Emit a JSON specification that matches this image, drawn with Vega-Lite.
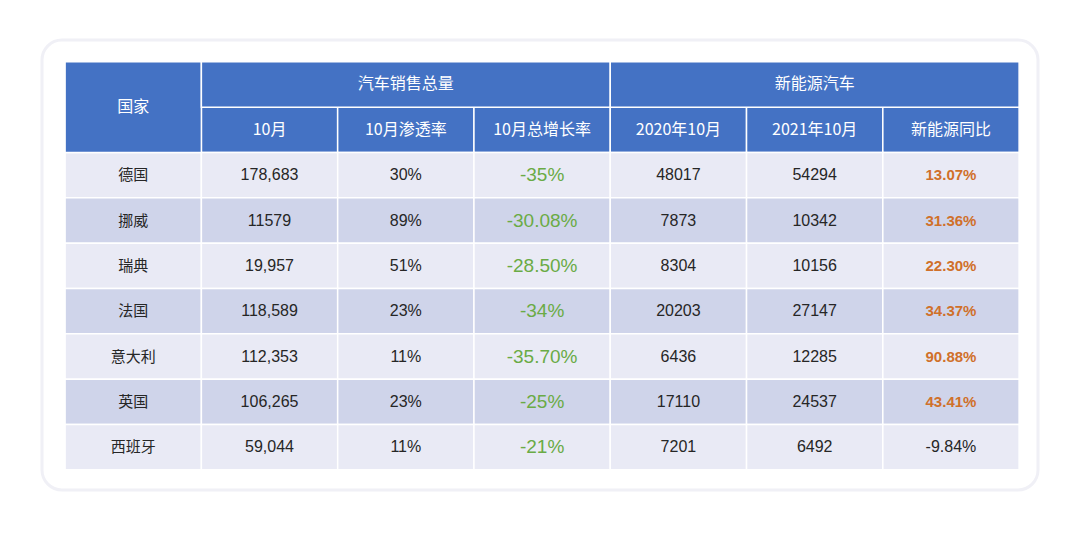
{
  "$schema": "https://vega.github.io/schema/vega-lite/v6.json",
  "width": 1080,
  "height": 535,
  "autosize": {"type": "fit", "contains": "padding"},
  "padding": {"left": 42, "top": 40, "right": 42, "bottom": 45},
  "background": "#ffffff",
  "config": {"view": {"fill": "#ffffff", "cornerRadius": 20, "stroke": "#f0f0f6", "strokeWidth": 3}},
  "datasets": {
    "cells": [
      {"row": "h2", "col": "c1", "text": "10月"},
      {"row": "h2", "col": "c2", "text": "10月渗透率"},
      {"row": "h2", "col": "c3", "text": "10月总增长率"},
      {"row": "h2", "col": "c4", "text": "2020年10月"},
      {"row": "h2", "col": "c5", "text": "2021年10月"},
      {"row": "h2", "col": "c6", "text": "新能源同比"},
      {"row": "德国", "col": "c0", "text": "德国"},
      {"row": "德国", "col": "c1", "text": "178,683"},
      {"row": "德国", "col": "c2", "text": "30%"},
      {"row": "德国", "col": "c3", "text": "-35%"},
      {"row": "德国", "col": "c4", "text": "48017"},
      {"row": "德国", "col": "c5", "text": "54294"},
      {"row": "德国", "col": "c6", "text": "13.07%"},
      {"row": "挪威", "col": "c0", "text": "挪威"},
      {"row": "挪威", "col": "c1", "text": "11579"},
      {"row": "挪威", "col": "c2", "text": "89%"},
      {"row": "挪威", "col": "c3", "text": "-30.08%"},
      {"row": "挪威", "col": "c4", "text": "7873"},
      {"row": "挪威", "col": "c5", "text": "10342"},
      {"row": "挪威", "col": "c6", "text": "31.36%"},
      {"row": "瑞典", "col": "c0", "text": "瑞典"},
      {"row": "瑞典", "col": "c1", "text": "19,957"},
      {"row": "瑞典", "col": "c2", "text": "51%"},
      {"row": "瑞典", "col": "c3", "text": "-28.50%"},
      {"row": "瑞典", "col": "c4", "text": "8304"},
      {"row": "瑞典", "col": "c5", "text": "10156"},
      {"row": "瑞典", "col": "c6", "text": "22.30%"},
      {"row": "法国", "col": "c0", "text": "法国"},
      {"row": "法国", "col": "c1", "text": "118,589"},
      {"row": "法国", "col": "c2", "text": "23%"},
      {"row": "法国", "col": "c3", "text": "-34%"},
      {"row": "法国", "col": "c4", "text": "20203"},
      {"row": "法国", "col": "c5", "text": "27147"},
      {"row": "法国", "col": "c6", "text": "34.37%"},
      {"row": "意大利", "col": "c0", "text": "意大利"},
      {"row": "意大利", "col": "c1", "text": "112,353"},
      {"row": "意大利", "col": "c2", "text": "11%"},
      {"row": "意大利", "col": "c3", "text": "-35.70%"},
      {"row": "意大利", "col": "c4", "text": "6436"},
      {"row": "意大利", "col": "c5", "text": "12285"},
      {"row": "意大利", "col": "c6", "text": "90.88%"},
      {"row": "英国", "col": "c0", "text": "英国"},
      {"row": "英国", "col": "c1", "text": "106,265"},
      {"row": "英国", "col": "c2", "text": "23%"},
      {"row": "英国", "col": "c3", "text": "-25%"},
      {"row": "英国", "col": "c4", "text": "17110"},
      {"row": "英国", "col": "c5", "text": "24537"},
      {"row": "英国", "col": "c6", "text": "43.41%"},
      {"row": "西班牙", "col": "c0", "text": "西班牙"},
      {"row": "西班牙", "col": "c1", "text": "59,044"},
      {"row": "西班牙", "col": "c2", "text": "11%"},
      {"row": "西班牙", "col": "c3", "text": "-21%"},
      {"row": "西班牙", "col": "c4", "text": "7201"},
      {"row": "西班牙", "col": "c5", "text": "6492"},
      {"row": "西班牙", "col": "c6", "text": "-9.84%"}
    ],
    "merged": [
      {"text": "国家", "c1": "c0", "c2": "c0", "cx": "c0", "r1": "h1", "r2": "h2"},
      {"text": "汽车销售总量", "c1": "c1", "c2": "c3", "cx": "c2", "r1": "h1", "r2": "h1"},
      {"text": "新能源汽车", "c1": "c4", "c2": "c6", "cx": "c5", "r1": "h1", "r2": "h1"}
    ]
  },
  "layer": [
    {
      "data": {"name": "cells"},
      "mark": {"type": "rect", "stroke": "#ffffff", "strokeWidth": 1.5},
      "encoding": {
        "x": {"field": "col", "type": "nominal", "axis": null, "scale": {"domain": ["c0", "c1", "c2", "c3", "c4", "c5", "c6"], "paddingInner": 0, "paddingOuter": 0.154, "align": 0.55}},
        "y": {"field": "row", "type": "nominal", "axis": null, "scale": {"domain": ["h1", "h2", "德国", "挪威", "瑞典", "法国", "意大利", "英国", "西班牙"], "paddingInner": 0, "paddingOuter": 0.463, "align": 0.52}},
        "fill": {"field": "row", "type": "nominal", "legend": null, "scale": {"domain": ["h2", "德国", "挪威", "瑞典", "法国", "意大利", "英国", "西班牙"], "range": ["#4472c4", "#e9eaf5", "#cfd4ea", "#e9eaf5", "#cfd4ea", "#e9eaf5", "#cfd4ea", "#e9eaf5"]}}
      }
    },
    {
      "data": {"name": "merged"},
      "mark": {"type": "rect", "stroke": "#ffffff", "strokeWidth": 1.5, "fill": "#4472c4"},
      "encoding": {
        "x": {"field": "c1", "type": "nominal", "bandPosition": 0, "axis": null, "scale": {"domain": ["c0", "c1", "c2", "c3", "c4", "c5", "c6"], "paddingInner": 0, "paddingOuter": 0.154, "align": 0.55}},
        "x2": {"field": "c2", "bandPosition": 1},
        "y": {"field": "r1", "type": "nominal", "bandPosition": 0, "axis": null, "scale": {"domain": ["h1", "h2", "德国", "挪威", "瑞典", "法国", "意大利", "英国", "西班牙"], "paddingInner": 0, "paddingOuter": 0.463, "align": 0.52}},
        "y2": {"field": "r2", "bandPosition": 1}
      }
    },
    {
      "data": {"name": "cells"},
      "transform": [{"filter": "datum.row !== 'h2' && datum.col !== 'c3' && !(datum.col === 'c6' && indexof(datum.text, '-') < 0)"}],
      "mark": {"type": "text", "font": "Liberation Sans, Noto Sans CJK SC", "color": "#262626", "baseline": "middle", "align": "center"},
      "encoding": {
        "x": {"field": "col", "type": "nominal", "axis": null},
        "y": {"field": "row", "type": "nominal", "axis": null},
        "text": {"field": "text"},
        "size": {"condition": [{"test": "datum.col === 'c0'", "value": 15}], "value": 16}
      }
    },
    {
      "data": {"name": "cells"},
      "transform": [{"filter": "datum.row !== 'h2' && datum.col === 'c3'"}],
      "mark": {"type": "text", "font": "Liberation Sans", "fontSize": 19, "color": "#6aab45", "baseline": "middle", "align": "center"},
      "encoding": {
        "x": {"field": "col", "type": "nominal", "axis": null},
        "y": {"field": "row", "type": "nominal", "axis": null},
        "text": {"field": "text"}
      }
    },
    {
      "data": {"name": "cells"},
      "transform": [{"filter": "datum.row !== 'h2' && datum.col === 'c6' && indexof(datum.text, '-') < 0"}],
      "mark": {"type": "text", "font": "Liberation Sans", "fontSize": 15, "fontWeight": "bold", "color": "#d0702a", "baseline": "middle", "align": "center"},
      "encoding": {
        "x": {"field": "col", "type": "nominal", "axis": null},
        "y": {"field": "row", "type": "nominal", "axis": null},
        "text": {"field": "text"}
      }
    },
    {
      "data": {"name": "cells"},
      "transform": [{"filter": "datum.row === 'h2'"}],
      "mark": {"type": "text", "font": "Noto Sans CJK SC", "fontSize": 16, "color": "#ffffff", "baseline": "middle", "align": "center"},
      "encoding": {
        "x": {"field": "col", "type": "nominal", "axis": null},
        "y": {"field": "row", "type": "nominal", "axis": null},
        "text": {"field": "text"}
      }
    },
    {
      "data": {"name": "merged"},
      "transform": [{"filter": "datum.r1 === datum.r2"}],
      "mark": {"type": "text", "font": "Noto Sans CJK SC", "fontSize": 16, "color": "#ffffff", "baseline": "middle", "align": "center"},
      "encoding": {
        "x": {"field": "cx", "type": "nominal", "axis": null},
        "y": {"field": "r1", "type": "nominal", "axis": null},
        "text": {"field": "text"}
      }
    },
    {
      "data": {"name": "merged"},
      "transform": [{"filter": "datum.r1 !== datum.r2"}],
      "mark": {"type": "text", "font": "Noto Sans CJK SC", "fontSize": 16, "color": "#ffffff", "baseline": "middle", "align": "center"},
      "encoding": {
        "x": {"field": "cx", "type": "nominal", "axis": null},
        "y": {"field": "r2", "type": "nominal", "bandPosition": 0, "axis": null},
        "text": {"field": "text"}
      }
    }
  ]
}
